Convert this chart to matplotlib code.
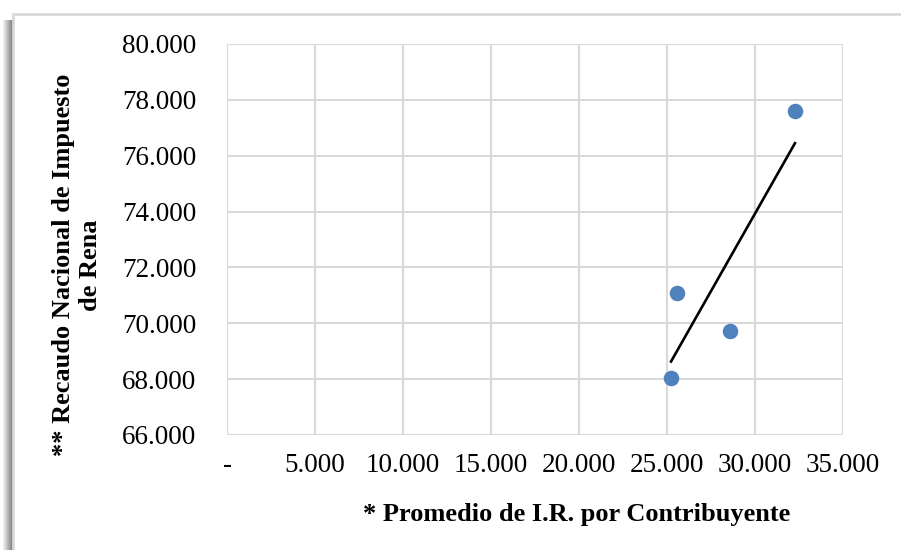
import matplotlib
matplotlib.use("Agg")
import matplotlib.pyplot as plt
import matplotlib.patches as mpatches
import numpy as np

# data
promedio_ir = [25230, 25570, 28580, 32270]
recaudo = [68040, 71080, 69720, 77600]
x_ticks = [0, 5000, 10000, 15000, 20000, 25000, 30000, 35000]
y_ticks = [66000, 68000, 70000, 72000, 74000, 76000, 78000, 80000]
x_title = "* Promedio de I.R. por Contribuyente"
y_title = "** Recaudo Nacional de Impuesto\nde Rena"

plt.rcParams['font.family'] = ['Liberation Serif', 'DejaVu Serif']


def miles(v):
    if v == 0:
        return "-"
    return "{:,.0f}".format(v).replace(",", ".")


fig = plt.figure(figsize=(9.01, 5.5), dpi=100)

# outer chart frame with a soft shadow on the left
for i in range(10):
    a = 0.06 + 0.05 * i
    fig.patches.append(mpatches.Rectangle(
        ((3 + i) / 901, 0), 1 / 901, 1 - 20 / 550,
        transform=fig.transFigure, color="black", alpha=a, lw=0,
        zorder=-10))
fig.patches.append(mpatches.Rectangle(
    (13 / 901, -0.1), 1.2, 1 - 14 / 550 + 0.1, transform=fig.transFigure,
    facecolor="white", edgecolor="#d9d9d9", lw=2, zorder=-9))

ax = fig.add_axes([227 / 901, 1 - 435 / 550, 616 / 901, 391 / 550])
ax.set_facecolor("none")

ax.scatter(promedio_ir, recaudo, s=125, color="#4F81BD", zorder=3, lw=0)

# linear trendline
k, b = np.polyfit(promedio_ir, recaudo, 1)
xt = np.array([min(promedio_ir), max(promedio_ir)])
ax.plot(xt, k * xt + b, color="black", lw=1.9, zorder=4)

ax.set_xlim(0, 35000)
ax.set_ylim(66000, 80000)
ax.set_xticks(x_ticks)
ax.set_yticks(y_ticks)
ax.set_xticklabels([miles(v) for v in x_ticks])
ax.set_yticklabels([miles(v) for v in y_ticks])
ax.grid(True, color="#d9d9d9", lw=1.5)
ax.set_axisbelow(True)
for s in ax.spines.values():
    s.set_visible(False)
ax.tick_params(axis="both", length=0, labelsize=19.5)
ax.tick_params(axis="x", pad=13)
ax.tick_params(axis="y", pad=22)

fig.text(577 / 901, 1 - 515 / 550, x_title, ha="center", va="center",
         fontsize=19, fontweight="bold")
fig.text(77 / 901, 1 - 265 / 550, y_title, ha="center", va="center",
         rotation=90, fontsize=19, fontweight="bold", multialignment="center",
         linespacing=1.2)

fig.savefig("out.png", dpi=100)
